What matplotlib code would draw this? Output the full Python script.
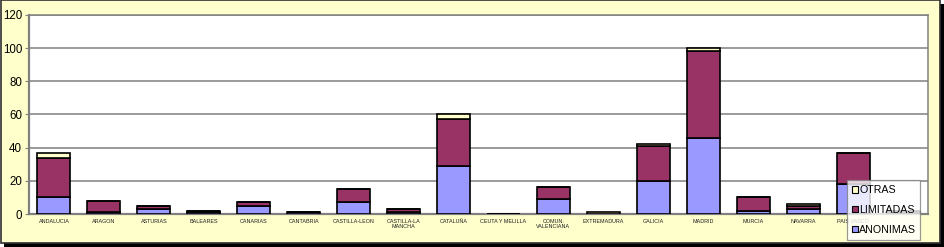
import matplotlib
matplotlib.use("Agg")
import matplotlib.pyplot as plt
import numpy as np
from matplotlib.patches import Rectangle

# Sociedades por comunidad autonoma
REGIONS = [
    "ANDALUCIA", "ARAGON", "ASTURIAS", "BALEARES", "CANARIAS", "CANTABRIA",
    "CASTILLA-LEON", "CASTILLA-LA\nMANCHA", "CATALUÑA", "CEUTA Y MELILLA",
    "COMUN.\nVALENCIANA", "EXTREMADURA", "GALICIA", "MADRID", "MURCIA",
    "NAVARRA", "PAIS VASCO", "RIOJA",
]
ANONIMAS = [10, 1, 3, 1, 5, 1, 7, 1, 29, 0, 9, 0, 20, 46, 2, 3, 18, 1]
LIMITADAS = [24, 7, 2, 1, 2, 0, 8, 2, 28, 0, 7, 0, 21, 52, 8, 2, 19, 1]
OTRAS = [3, 0, 0, 0, 0, 0, 0, 0, 3, 0, 0, 1, 1, 2, 0, 1, 0, 0]

C_ANON = "#9999FF"
C_LIM = "#993366"
C_OTRAS = "#FFFFCC"
BG = "#FFFFCC"
GRID = "#808080"

W, H = 944, 247
fig = plt.figure(figsize=(W / 100, H / 100), dpi=100)
fig.patch.set_facecolor("white")

# Chart frame with drop shadow
fig.patches.append(Rectangle((4 / W, 0), 940 / W, 243 / H, transform=fig.transFigure,
                             fc="black", ec="none", zorder=0))
fig.patches.append(Rectangle((0.5 / W, 4.5 / H), 939 / W, 242 / H, transform=fig.transFigure,
                             fc=BG, ec="#303030", lw=1.2, zorder=1))

ax = fig.add_axes([29 / W, 33 / H, 899 / W, 199 / H])
ax.set_facecolor("white")
ax.set_zorder(2)

x = np.arange(len(REGIONS))
anon = np.array(ANONIMAS)
lim = np.array(LIMITADAS)
otr = np.array(OTRAS)
kw = dict(width=0.66, edgecolor="black", linewidth=1.2, zorder=3)
b1 = ax.bar(x, anon, color=C_ANON, label="ANONIMAS", **kw)
b2 = ax.bar(x, lim, bottom=anon, color=C_LIM, label="LIMITADAS", **kw)
b3 = ax.bar(x, otr, bottom=anon + lim, color=C_OTRAS, label="OTRAS", **kw)

ax.set_xlim(-0.5, len(REGIONS) - 0.5)
ax.set_ylim(0, 120)
ax.set_yticks(range(0, 121, 20))
ax.yaxis.grid(True, color=GRID, lw=1.1, zorder=1)
ax.set_axisbelow(True)
for s in ax.spines.values():
    s.set_color(GRID)
    s.set_linewidth(1.1)
ax.spines["left"].set_linewidth(1.6)
ax.spines["bottom"].set_linewidth(1.6)

# the last label sits under the legend, as in the original
labels = REGIONS[:-1] + [""]
ax.set_xticks(x)
ax.set_xticklabels(labels, fontsize=3.9, family="Liberation Sans", color="#202020",
                   linespacing=1.0)
ax.tick_params(axis="x", length=0, pad=3.5)
ax.tick_params(axis="y", length=3, color=GRID, labelsize=8.3, pad=2)
for t in ax.get_yticklabels():
    t.set_family("Liberation Sans")

leg = ax.legend(handles=[b3, b2, b1], loc="lower left",
                bbox_to_anchor=(818 / 899, -26 / 199, 73 / 899, 61 / 199),
                mode="expand", frameon=True, fancybox=False,
                prop={"family": "Liberation Sans", "size": 7.7},
                handlelength=0.55, handleheight=0.55, handletextpad=0.1,
                labelspacing=0.9, borderpad=0.5, borderaxespad=0)
leg.get_frame().set_edgecolor("#808080")
leg.get_frame().set_linewidth(0.9)
leg.set_zorder(10)
for h in leg.legend_handles:
    h.set_linewidth(0.8)

fig.savefig("out.png", dpi=100)
